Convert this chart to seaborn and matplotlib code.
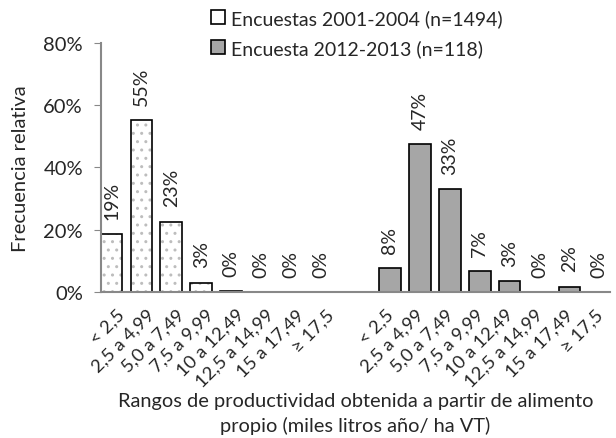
import numpy as np
import pandas as pd
import matplotlib
matplotlib.use("Agg")
import matplotlib.pyplot as plt
import seaborn as sns
from matplotlib.patches import Patch

# rangos de productividad (se repiten para los dos grupos)
rangos = ["< 2,5", "2,5 a 4,99", "5,0 a 7,49", "7,5 a 9,99", "10 a 12,49",
          "12,5 a 14,99", "15 a 17,49", "\u2265 17,5"]
# frecuencias relativas
frec_2001 = [0.187, 0.552, 0.226, 0.030, 0.003, 0.0, 0.0, 0.0]
frec_2012 = [0.076, 0.475, 0.331, 0.068, 0.034, 0.0, 0.017, 0.0]
etiq_2001 = ["19%", "55%", "23%", "3%", "0%", "0%", "0%", "0%"]
etiq_2012 = ["8%", "47%", "33%", "7%", "3%", "0%", "2%", "0%"]
serie1 = "Encuestas 2001-2004 (n=1494)"
serie2 = "Encuesta 2012-2013 (n=118)"

sns.set_style("white")
plt.rcParams["font.family"] = ["Lato", "DejaVu Sans"]

# posiciones: grupo 1 en 0..7, hueco en 8, grupo 2 en 9..16
pos1 = np.arange(len(rangos))
pos2 = pos1 + len(rangos) + 1
desp = 0.15
df1 = pd.DataFrame({"x": pos1 - desp, "y": frec_2001})
df2 = pd.DataFrame({"x": pos2 + desp, "y": frec_2012})

fig = plt.figure(figsize=(6.16, 4.39), dpi=100)
ax = fig.add_axes([0.1640, 0.3326, 0.8260, 0.5672])

gris_borde = "#888888"
# serie 1: relleno punteado gris, luego contorno negro
sns.barplot(data=df1, x="x", y="y", native_scale=True, width=0.73, ax=ax,
            color="white", edgecolor="#bdbdbd", linewidth=0, hatch="..",
            saturation=1)
sns.barplot(data=df1, x="x", y="y", native_scale=True, width=0.73, ax=ax,
            fill=False, edgecolor="black", linewidth=1.2)
sns.barplot(data=df2, x="x", y="y", native_scale=True, width=0.73, ax=ax,
            color="#a6a6a6", edgecolor="black", linewidth=1.2, saturation=1)

# etiquetas de datos
for xs, ys, ts in [(df1["x"], frec_2001, etiq_2001), (df2["x"], frec_2012, etiq_2012)]:
    for x, y, t in zip(xs, ys, ts):
        ax.annotate(t, (x, y), xytext=(0, 11), textcoords="offset points",
                    rotation=90, ha="center", va="bottom", fontsize=14)

ax.set_xlim(-0.5, len(rangos) * 2 + 0.5)
ax.set_ylim(0, 0.8)
ax.set_yticks([0, 0.2, 0.4, 0.6, 0.8])
ax.set_yticklabels(["0%", "20%", "40%", "60%", "80%"], fontsize=14.5)
ax.set_xticks(np.concatenate([pos1, pos2]))
ax.set_xticklabels(rangos + rangos, rotation=45, ha="right",
                   rotation_mode="anchor", fontsize=13.3)
ax.tick_params(axis="x", length=0, pad=10)
ax.tick_params(axis="y", length=5, color=gris_borde, direction="out", left=True, pad=8)

for s in ["top", "right"]:
    ax.spines[s].set_visible(False)
for s in ["left", "bottom"]:
    ax.spines[s].set_color(gris_borde)
    ax.spines[s].set_linewidth(1.5)

ax.set_ylabel("Frecuencia relativa", fontsize=14.5, labelpad=10)
ax.set_xlabel("Rangos de productividad obtenida a partir de alimento\npropio (miles litros año/ ha VT)",
              fontsize=14.4, linespacing=1.45, labelpad=2)

handles = [Patch(facecolor="white", edgecolor="black", linewidth=1.2),
           Patch(facecolor="#a6a6a6", edgecolor="black", linewidth=1.2)]
fig.legend(handles, [serie1, serie2], loc="upper left", bbox_to_anchor=(0.33, 0.995),
           frameon=False, fontsize=14, handlelength=0.7, handleheight=0.7,
           handletextpad=0.3, labelspacing=0.62, borderaxespad=0)

fig.savefig("out.png", dpi=100)
